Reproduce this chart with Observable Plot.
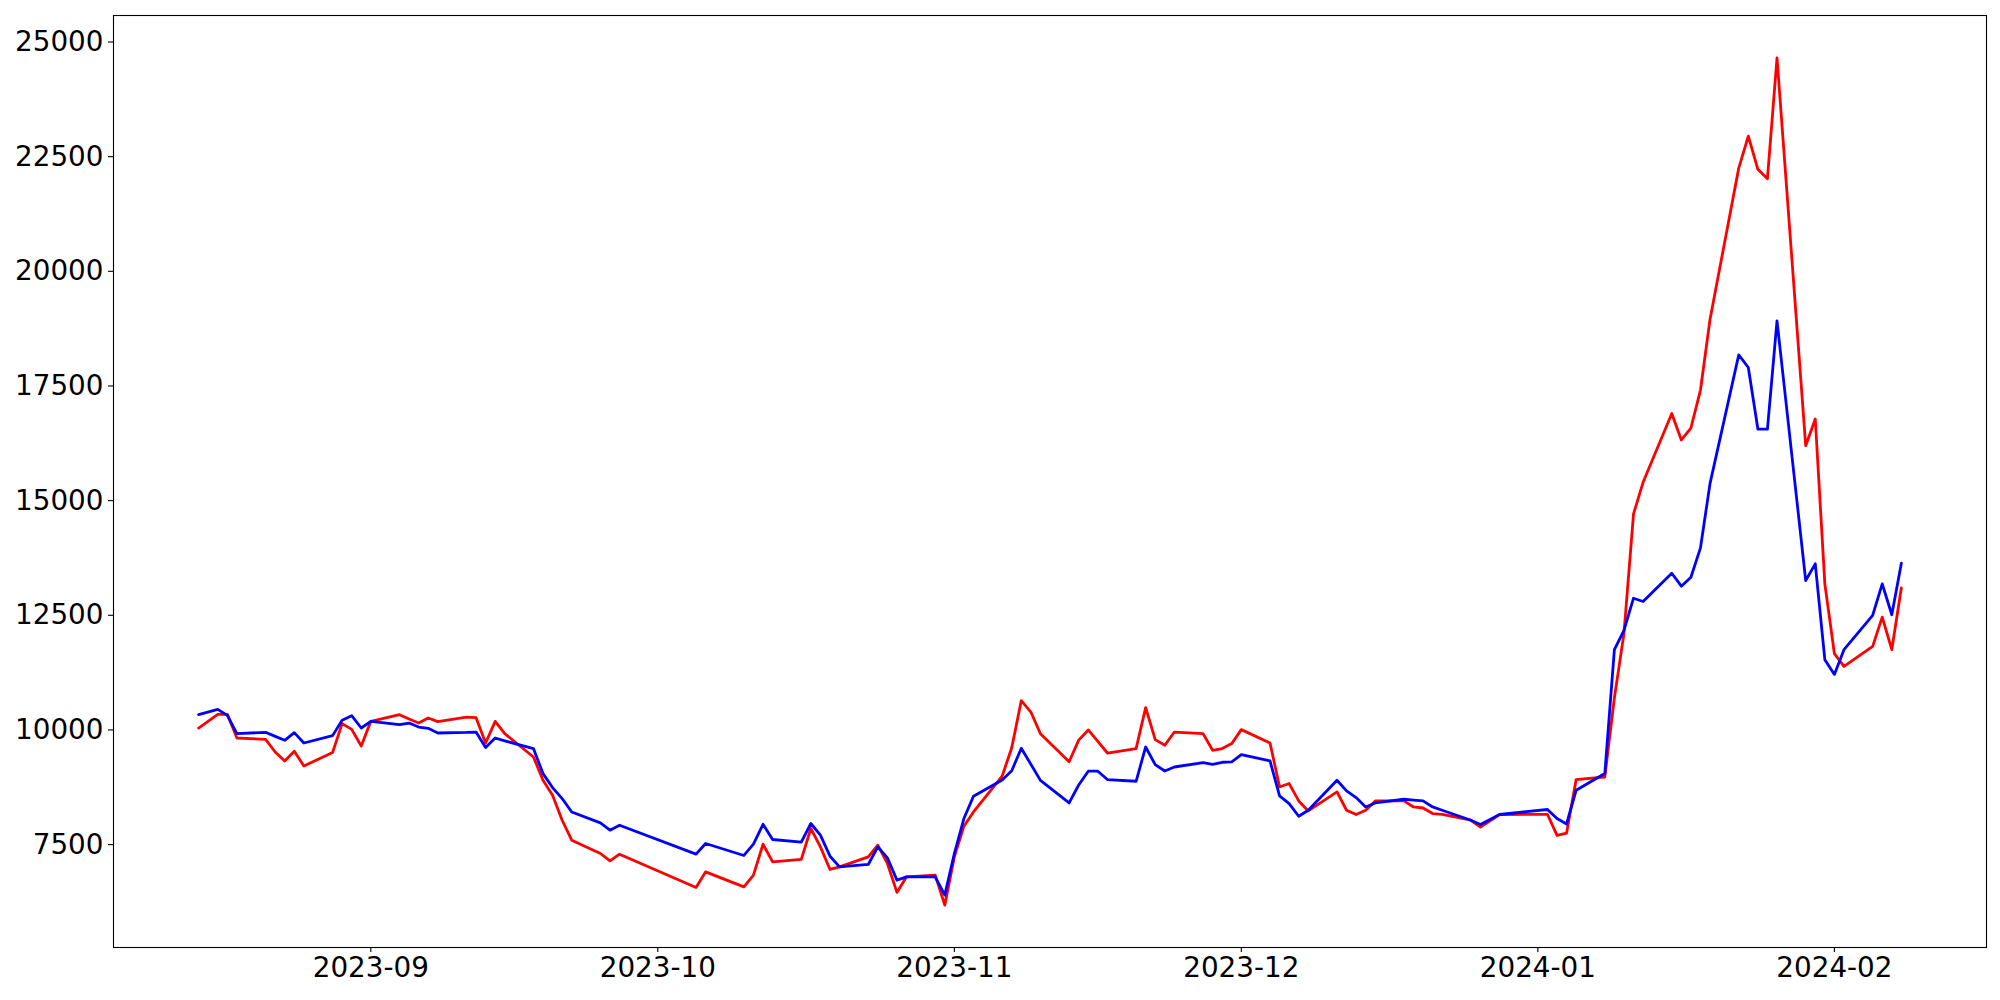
<!DOCTYPE html>
<html><head><meta charset="utf-8">
<script src="https://cdn.jsdelivr.net/npm/d3@7"></script>
<script src="https://cdn.jsdelivr.net/npm/@observablehq/plot@0.6"></script>
<style>body{margin:0;background:#fff} svg{display:block}</style>
</head><body><div id="chart"></div>
<script>
const dates = [
"2023-08-14","2023-08-16","2023-08-17","2023-08-18","2023-08-21","2023-08-22","2023-08-23","2023-08-24","2023-08-25",
"2023-08-28","2023-08-29","2023-08-30","2023-08-31","2023-09-01","2023-09-04","2023-09-05","2023-09-06","2023-09-07","2023-09-08",
"2023-09-11","2023-09-12","2023-09-13","2023-09-14","2023-09-15","2023-09-18","2023-09-19","2023-09-20","2023-09-21","2023-09-22",
"2023-09-25","2023-09-26","2023-09-27","2023-10-05","2023-10-06","2023-10-10","2023-10-11","2023-10-12","2023-10-13",
"2023-10-16","2023-10-17","2023-10-18","2023-10-19","2023-10-20","2023-10-23","2023-10-24","2023-10-25","2023-10-26","2023-10-27",
"2023-10-30","2023-10-31","2023-11-01","2023-11-02","2023-11-03","2023-11-06","2023-11-07","2023-11-08","2023-11-09","2023-11-10",
"2023-11-13","2023-11-14","2023-11-15","2023-11-16","2023-11-17","2023-11-20","2023-11-21","2023-11-22","2023-11-23","2023-11-24",
"2023-11-27","2023-11-28","2023-11-29","2023-11-30","2023-12-01","2023-12-04","2023-12-05","2023-12-06","2023-12-07","2023-12-08",
"2023-12-11","2023-12-12","2023-12-13","2023-12-14","2023-12-15","2023-12-18","2023-12-19","2023-12-20","2023-12-21","2023-12-22",
"2023-12-25","2023-12-26","2023-12-28","2024-01-02","2024-01-03","2024-01-04","2024-01-05","2024-01-08","2024-01-09","2024-01-10",
"2024-01-11","2024-01-12","2024-01-15","2024-01-16","2024-01-17","2024-01-18","2024-01-19","2024-01-22","2024-01-23","2024-01-24",
"2024-01-25","2024-01-26","2024-01-29","2024-01-30","2024-01-31","2024-02-01","2024-02-02","2024-02-05","2024-02-06","2024-02-07","2024-02-08"
];
const redValues = [
10041,10340,10340,9824,9795,9519,9323,9534,9214,
9506,10137,10013,9650,10187,10333,10240,10150,10259,10181,
10281,10268,9715,10187,9920,9410,8902,8576,8031,7596,
7306,7145,7291,6566,6906,6579,6834,7509,7123,
7176,7851,7450,6958,7015,7232,7487,7089,6457,6797,
6834,6180,7232,7901,8212,8994,9612,10640,10390,9917,
9306,9778,10000,9750,9497,9593,10486,9789,9665,9954,
9919,9556,9593,9702,10007,9715,8757,8831,8452,8234,
8648,8249,8156,8249,8452,8452,8321,8298,8177,8161,
8031,7880,8156,8161,7700,7750,8918,8974,10700,12100,
14710,15399,16901,16322,16583,17411,18957,22250,22949,22223,
22019,24654,16198,16779,13186,11662,11385,11821,12459,11749,13099
];
const blueValues = [
10333,10449,10318,9920,9948,9860,9774,9941,9715,
9876,10209,10312,10042,10187,10116,10150,10063,10035,9933,
9945,9954,9615,9824,9763,9593,9048,8744,8504,8212,
7973,7814,7923,7291,7524,7263,7509,7944,7611,
7552,7960,7705,7247,7015,7067,7450,7211,6725,6797,
6797,6398,7306,8069,8554,8908,9111,9600,9250,8900,
8408,8800,9100,9100,8918,8881,9628,9244,9105,9192,
9288,9251,9295,9302,9462,9323,8561,8395,8118,8249,
8902,8670,8526,8321,8408,8489,8470,8452,8321,8249,
8031,7940,8156,8265,8069,7950,8685,9049,11749,12169,
12872,12801,13417,13134,13330,13970,15377,18179,17903,16561,
16561,18920,13258,13622,11531,11211,11749,12496,13186,12511,13635
];
const xTickLabels = ["2023-09","2023-10","2023-11","2023-12","2024-01","2024-02"];
const yTickValues = [7500,10000,12500,15000,17500,20000,22500,25000];

const parse = d3.utcParse("%Y-%m-%d");
const redRows = dates.map((d, i) => ({date: parse(d), value: redValues[i]}));
const blueRows = dates.map((d, i) => ({date: parse(d), value: blueValues[i]}));
const all = redRows.concat(blueRows);
const [x0, x1] = d3.extent(all, r => r.date);
const xPad = (x1 - x0) * 0.05;
const [y0, y1] = d3.extent(all, r => r.value);
const yPad = (y1 - y0) * 0.05;

const chart = Plot.plot({
  width: 2000, height: 1000,
  marginLeft: 113, marginRight: 14, marginTop: 15, marginBottom: 53,
  style: {fontFamily: "DejaVu Sans", fontSize: "27.8px", background: "#fff", color: "#000", overflow: "visible"},
  x: {type: "utc", domain: [new Date(+x0 - xPad), new Date(+x1 + xPad)]},
  y: {domain: [y0 - yPad, y1 + yPad]},
  marks: [
    Plot.axisX({ticks: xTickLabels.map(s => parse(s + "-01")), tickFormat: d3.utcFormat("%Y-%m"),
      tickSize: 5, tickPadding: 5, fontSize: 27.8, label: null, strokeWidth: 1.1}),
    Plot.axisY({ticks: yTickValues, tickFormat: d3.format("d"),
      tickSize: 5, tickPadding: 5, fontSize: 27.8, label: null, strokeWidth: 1.1}),
    Plot.line(redRows, {x: "date", y: "value", stroke: "#ff0000", strokeWidth: 2.8}),
    Plot.line(blueRows, {x: "date", y: "value", stroke: "#0000ff", strokeWidth: 2.8}),
    Plot.frame({stroke: "#000", strokeWidth: 1.1})
  ]
});
document.getElementById("chart").appendChild(chart);
</script>
</body></html>
